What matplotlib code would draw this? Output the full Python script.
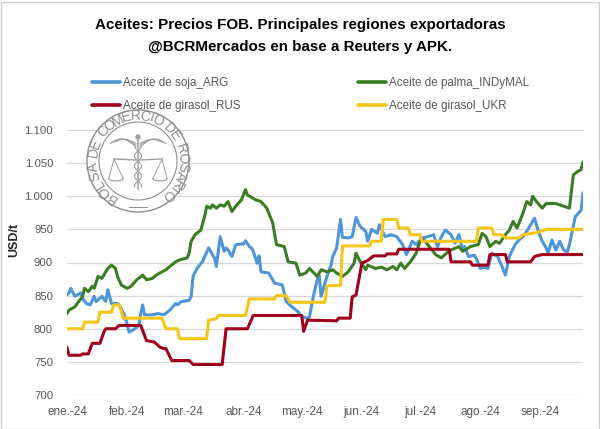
import numpy as np
import matplotlib
matplotlib.use("Agg")
import matplotlib.pyplot as plt
import matplotlib.ticker as mticker
from matplotlib.patches import Circle, Rectangle, Arc

# ---------------- data (days since 2024-01-01, USD/t) ----------------
start_date = np.datetime64("2024-01-01")

soja_day = [0,1,2,4,7,8,10,12,14,15,18,20,21,23,26,27,30,32,34,37,38,39,40,44,47,50,53,56,57,59,
            63,64,65,67,70,71,73,75,76,77,79,81,82,83,85,87,91,92,94,95,96,98,99,100,104,107,111,113,116,119,
            121,124,125,127,129,130,131,134,136,137,139,141,142,145,147,149,151,154,155,157,160,161,164,167,170,173,175,178,180,183,
            186,189,191,193,195,198,200,202,204,205,207,210,211,213,215,217,219,222,224,226,228,231,233,235,237,241,243,245,247,248,
            250,252,254,256,258,259,262,265,266]
soja_val = [851,854,861,849,854,846,838,836,849,841,849,841,859,838,838,836,818,795,798,805,823,836,821,821,823,821,828,838,836,841,
            843,849,879,891,902,909,922,912,907,894,939,917,922,919,909,927,928,933,924,922,917,899,910,886,884,869,866,841,833,826,
            818,816,818,849,874,880,849,879,895,909,922,965,938,937,939,968,955,947,932,950,944,957,939,942,939,927,912,932,927,937,
            939,942,924,939,949,942,929,942,919,924,909,911,906,891,893,891,914,909,896,881,909,927,934,939,947,967,947,932,922,914,
            934,919,932,919,916,927,969,979,1005]

palma_day = [0,1,4,6,8,9,11,13,14,16,18,20,21,23,25,26,28,31,33,36,39,41,44,46,49,51,53,56,58,62,
             63,64,66,69,71,72,74,75,77,79,81,83,85,87,90,92,93,97,100,103,106,108,112,114,118,120,123,125,129,131,
             134,137,139,142,145,148,149,151,154,155,159,162,165,168,170,172,174,177,180,182,184,186,190,193,196,198,202,204,208,212,
             214,216,218,221,223,226,228,230,232,235,237,239,240,242,245,247,252,254,257,259,261,263,265,266]
palma_val = [823,828,833,841,848,861,856,864,861,879,876,886,891,896,891,879,866,861,864,874,881,874,876,881,886,889,894,901,904,907,
             915,932,942,949,970,985,982,987,982,987,985,992,977,985,995,1010,1002,995,992,982,960,927,924,901,899,881,884,891,879,889,
             886,889,884,879,886,899,914,902,889,896,891,893,889,894,889,899,891,901,914,932,934,927,912,907,915,919,924,917,924,927,
             944,939,924,932,929,942,949,962,952,974,992,987,1000,992,982,989,989,987,984,982,1032,1037,1040,1052]

rus_day = [0,1,7,8,11,12,13,17,19,20,25,26,27,38,41,45,48,50,51,54,63,65,80,82,93,96,121,122,124,139,
           140,146,147,149,152,155,158,164,165,170,171,197,198,208,209,217,218,226,227,239,241,245,266]
rus_val = [772,760,760,762,762,770,778,778,795,800,800,803,805,805,782,780,772,770,770,752,752,746,746,800,800,820,820,796,813,812,
           816,816,848,851,899,903,910,910,913,913,920,920,901,901,896,896,912,912,901,901,909,912,912]

ukr_day = [0,8,9,16,17,23,24,27,29,49,51,57,58,72,73,77,78,92,94,107,108,113,115,133,134,141,142,156,157,162,
           163,170,171,176,177,182,183,211,212,219,220,224,226,233,235,242,247,266]
ukr_val = [800,800,810,810,825,825,836,836,816,816,800,800,785,785,813,815,820,820,845,845,850,850,840,840,865,865,925,925,932,932,
           965,965,952,952,942,942,932,932,952,952,942,942,937,937,942,945,950,950]

series_names = ["Aceite de soja_ARG", "Aceite de palma_INDyMAL", "Aceite de girasol_RUS", "Aceite de girasol_UKR"]
series_colors = ["#4e95d9", "#3b7d23", "#a0001e", "#f5c518"]

month_ticks = ["2024-01-01", "2024-02-01", "2024-03-01", "2024-04-01", "2024-05-01",
               "2024-06-01", "2024-07-01", "2024-08-01", "2024-09-01"]
month_labels = ["ene.-24", "feb.-24", "mar.-24", "abr.-24", "may.-24",
                "jun.-24", "jul.-24", "ago.-24", "sep.-24"]
y_ticks = [700, 750, 800, 850, 900, 950, 1000, 1050, 1100]

title_lines = ["Aceites: Precios FOB. Principales regiones exportadoras",
               "@BCRMercados en base a Reuters y APK."]
seal_text = "BOLSA DE COMERCIO DE ROSARIO"

# ---------------- figure ----------------
W, H = 600, 429
fig = plt.figure(figsize=(W / 100, H / 100), dpi=100)
fig.patch.set_facecolor("white")
FAM = ["Liberation Sans", "DejaVu Sans"]

def to_dates(days):
    return start_date + np.array(days).astype("timedelta64[D]")

ax = fig.add_axes([67 / W, 1 - 395 / H, (583 - 67) / W, (395 - 130) / H])
data = [(soja_day, soja_val), (palma_day, palma_val), (rus_day, rus_val), (ukr_day, ukr_val)]
handles = []
for (d, v), name, col in zip(data, series_names, series_colors):
    h, = ax.plot(to_dates(d), v, color=col, lw=2.2, label=name,
                 solid_joinstyle="round", solid_capstyle="round", zorder=3)
    handles.append(h)

ax.set_ylim(700, 1100)
ax.set_yticks(y_ticks)
ax.yaxis.set_major_formatter(mticker.FuncFormatter(lambda v, p: f"{v:,.0f}".replace(",", ".")))
ax.set_xlim(start_date, start_date + np.timedelta64(266, "D"))
ax.set_xticks([np.datetime64(t) for t in month_ticks])
ax.set_xticklabels(month_labels)
for s in ax.spines.values():
    s.set_visible(False)
ax.grid(axis="y", color="#d9d9d9", lw=0.9, zorder=0)
ax.set_axisbelow(True)
ax.tick_params(axis="both", length=0, colors="#595959")
ax.tick_params(axis="y", labelsize=8.2, pad=10)
ax.tick_params(axis="x", labelsize=8.5, pad=8)
for lab in ax.get_xticklabels() + ax.get_yticklabels():
    lab.set_family(FAM)

fig.text(14 / W, 1 - 240 / H, "USD/t", rotation=90, ha="center", va="center",
         fontsize=9, fontweight="bold", color="#262626", family=FAM)

# title
for yc, t in zip([25, 47], title_lines):
    fig.text(0.5, 1 - yc / H, t, ha="center", va="center", fontsize=10.9,
             fontweight="bold", color="black", family=FAM)

# legend (column-wise fill: soja, RUS | palma, UKR)
order = [0, 2, 1, 3]
leg = fig.legend([handles[i] for i in order], [series_names[i] for i in order],
                 loc="upper left", bbox_to_anchor=(92 / W, 1 - 77 / H), ncol=2, frameon=False,
                 prop={"family": FAM, "size": 8.4},
                 handlelength=2.4, handletextpad=0.23, columnspacing=10.1,
                 labelspacing=0.95, borderpad=0, borderaxespad=0)
for txt in leg.get_texts():
    txt.set_color("#595959")
for ln in leg.get_lines():
    ln.set_linewidth(2.6)

# watermark seal
lax = fig.add_axes([(138 - 58) / W, 1 - (161 + 58) / H, 116 / W, 116 / H])
lax.set_xlim(-58, 58)
lax.set_ylim(-58, 58)
lax.axis("off")
gray = "#8e8e8e"
lax.add_patch(Circle((0, 0), 51, fc="white", ec=gray, lw=1.0, zorder=1))
lax.add_patch(Circle((0, 0), 39, fill=False, ec=gray, lw=0.8, zorder=2))
wts = np.array([0.45 if c == " " else (0.4 if c == "I" else 0.8) for c in seal_text])
cum = np.cumsum(wts) - wts / 2
angs = 234 - (234 + 48) * (cum - cum[0]) / (cum[-1] - cum[0])
for ch, a in zip(seal_text, angs):
    r = 45
    lax.text(r * np.cos(np.radians(a)), r * np.sin(np.radians(a)), ch, rotation=a - 90,
             ha="center", va="center", rotation_mode="anchor", fontsize=10, color=gray,
             family=FAM, zorder=3)
lax.plot([-9, 9], [-46, -46], color=gray, lw=0.7)
# caduceus and scales
lc = "#a0a0a0"
lax.plot([0, 0], [-28, 24], color=lc, lw=1.1)
yy = np.linspace(-26, 14, 60)
lax.plot(3.5 * np.sin(yy / 3.2), yy, color=lc, lw=0.8)
lax.plot(-3.5 * np.sin(yy / 3.2), yy, color=lc, lw=0.8)
lax.add_patch(Circle((0, 24), 2, fc=lc, ec=lc))
for sgn in (-1, 1):
    for k, off in enumerate([0, 3, 6]):
        xs = np.linspace(2, 28 - off, 30)
        lax.plot(sgn * xs, 14 + off * 0.6 + 8 * np.sin(np.pi * (xs - 2) / (30 - off)) * (1 - k * 0.25),
                 color=lc, lw=0.8)
    lax.plot([sgn * 2, sgn * 24], [1, 2], color=lc, lw=1.0)
    px = sgn * 22
    lax.plot([sgn * 24, px - 7], [2, -17], color=lc, lw=0.7)
    lax.plot([sgn * 24, px + 7], [2, -17], color=lc, lw=0.7)
    lax.add_patch(Arc((px, -17), 15, 6, theta1=180, theta2=360, color=lc, lw=0.9))

# chart border
fig.patches.append(Rectangle((0.5 / W, 0.5 / H), (W - 2) / W, (H - 2) / H, fill=False,
                             ec="#d0d0d0", lw=1.0, transform=fig.transFigure))

fig.savefig("out.png", dpi=100, facecolor="white")
